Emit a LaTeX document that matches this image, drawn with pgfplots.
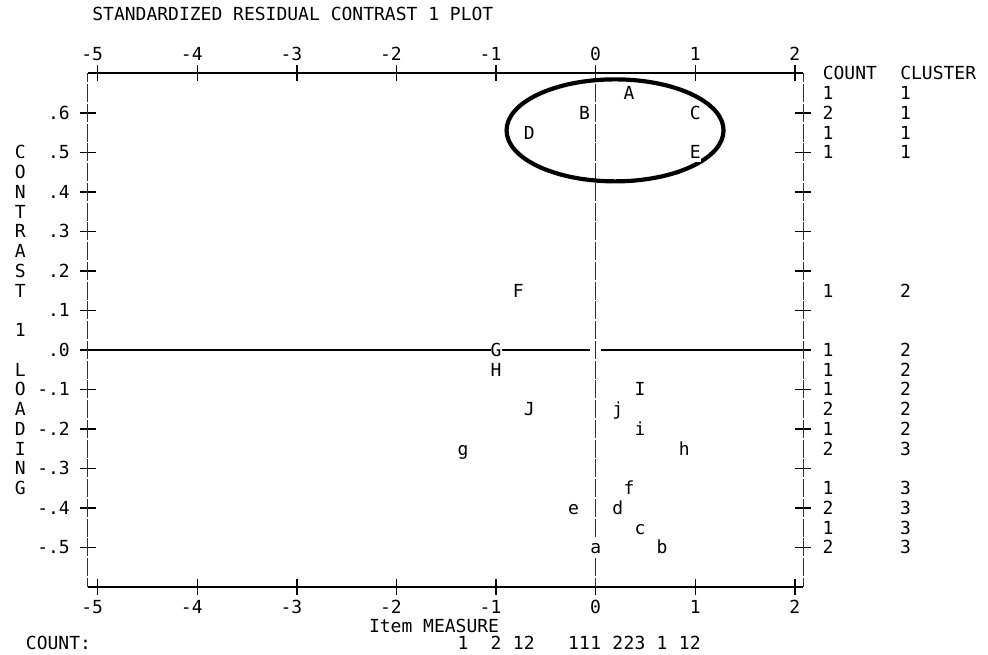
\documentclass[border=0pt]{standalone}
\usepackage{fontspec}
\setmainfont{DejaVu Sans Mono}
\setmonofont{DejaVu Sans Mono}
\usepackage{pgfplots}
\usepackage{pgfplotstable}
\pgfplotsset{compat=1.18}
\definecolor{vline}{RGB}{60,45,30}
\tikzset{cell/.style={anchor=base, yshift=-6.5pt, inner sep=0pt},
  lcell/.style={anchor=base west, yshift=-6.5pt, inner sep=0pt},
  rcell/.style={anchor=base east, yshift=-6.5pt, inner sep=0pt},
  tcell/.style={anchor=base east, yshift=-6.5pt, xshift=5.5pt, inner sep=0pt}}

\pgfplotstableread{
x y label
0.3333 0.65 A
-0.1111 0.60 B
1.0 0.60 C
-0.6667 0.55 D
1.0 0.50 E
-0.7778 0.15 F
-1.0 0.00 G
-1.0 -0.05 H
0.4444 -0.10 I
-0.6667 -0.15 J
0.2222 -0.15 j
0.4444 -0.20 i
-1.3333 -0.25 g
0.8889 -0.25 h
0.3333 -0.35 f
-0.2222 -0.40 e
0.2222 -0.40 d
0.4444 -0.45 c
0.0 -0.50 a
0.6667 -0.50 b
}\items

\pgfplotstableread{
y count cluster
0.65 1 1
0.60 2 1
0.55 1 1
0.50 1 1
0.15 1 2
0.00 1 2
-0.05 1 2
-0.10 1 2
-0.15 2 2
-0.20 1 2
-0.25 2 3
-0.35 1 3
-0.40 2 3
-0.45 1 3
-0.50 2 3
}\rows

\pgfplotstableread{
x n
-1.3333 1
-1.0 2
-0.7778 1
-0.6667 2
-0.2222 1
-0.1111 1
0.0 1
0.2222 2
0.3333 2
0.4444 3
0.6667 1
0.8889 1
1.0 2
}\colcounts

\begin{document}
\fontsize{18pt}{20pt}\selectfont
\begin{tikzpicture}
\path[use as bounding box] (0,0) rectangle (988pt,655pt);
\begin{axis}[
  at={(87.74pt,68pt)}, anchor=south west,
  scale only axis, width=715.66pt, height=513.5pt,
  xmin=-5.1, xmax=2.085, ymin=-0.6, ymax=0.7,
  axis line style={draw=none},
  xtick={-5,-4,-3,-2,-1,0,1,2},
  ytick={-0.5,-0.4,-0.3,-0.2,-0.1,0,0.1,0.2,0.3,0.4,0.5,0.6},
  xticklabels={,,}, yticklabels={,,},
  xtick pos=both, ytick pos=both,
  tick align=center, major tick length=16pt,
  tick style={black, line width=1.3pt},
  clip=false,
]
% frame
\draw[black, line width=2pt] (rel axis cs:0,1) -- (rel axis cs:1,1);
\draw[black, line width=2pt] (rel axis cs:0,0) -- (rel axis cs:1,0);
\draw[vline, line width=1.5pt, dash pattern=on 18pt off 1.75pt, dash phase=9pt] (rel axis cs:0,1) -- (rel axis cs:0,0);
\draw[vline, line width=1.5pt, dash pattern=on 18pt off 1.75pt, dash phase=9pt] (rel axis cs:1,1) -- (rel axis cs:1,0);
% zero lines
\draw[vline, line width=1.5pt, dash pattern=on 18pt off 1.75pt, dash phase=9pt] (axis cs:0,0.7) -- (axis cs:0,-0.6);
\draw[black, line width=2pt] (axis cs:-5.1,0) -- (axis cs:-0.057,0);
\draw[black, line width=2pt] (axis cs:0.055,0) -- (axis cs:2.085,0);

% item letters
\addplot[only marks, mark=none, nodes near coords, point meta=explicit symbolic,
  nodes near coords align={anchor=base},
  every node near coord/.append style={anchor=base, yshift=-6.5pt, inner sep=0pt, fill=white, text height=16.35pt, text depth=3.35pt}]
  table[x=x, y=y, meta=label] {\items};

% right columns
\addplot[only marks, mark=none, nodes near coords, point meta=explicit symbolic,
  nodes near coords align={anchor=base},
  every node near coord/.append style={anchor=base, yshift=-6.5pt, inner sep=0pt}]
  table[x expr=2.3333, y=y, meta=count] {\rows};
\addplot[only marks, mark=none, nodes near coords, point meta=explicit symbolic,
  nodes near coords align={anchor=base},
  every node near coord/.append style={anchor=base, yshift=-6.5pt, inner sep=0pt}]
  table[x expr=3.1111, y=y, meta=cluster] {\rows};

% bottom counts
\addplot[only marks, mark=none, nodes near coords, point meta=explicit symbolic,
  nodes near coords align={anchor=base},
  every node near coord/.append style={anchor=base, yshift=-6.5pt, inner sep=0pt, text depth=0pt}]
  table[x=x, y expr=-0.743, meta=n] {\colcounts};

% ellipse
\draw[black, line width=4.2pt] (axis cs:0.194,0.556) ellipse [x radius=108.5pt, y radius=51pt];

% title and headers
\node[lcell] at (axis cs:-5.0556,0.85) {STANDARDIZED RESIDUAL CONTRAST 1 PLOT};
\node[lcell] at (axis cs:2.2778,0.70) {COUNT};
\node[lcell] at (axis cs:3.0556,0.70) {CLUSTER};
\node[lcell] at (axis cs:-2.2778,-0.70) {Item MEASURE};
\node[lcell, text depth=0pt] at (axis cs:-5.7222,-0.743) {COUNT:};

% x tick labels top
\node[tcell] at (axis cs:-5,0.75) {-5};
\node[tcell] at (axis cs:-4,0.75) {-4};
\node[tcell] at (axis cs:-3,0.75) {-3};
\node[tcell] at (axis cs:-2,0.75) {-2};
\node[tcell] at (axis cs:-1,0.75) {-1};
\node[tcell] at (axis cs:0,0.75) {0};
\node[tcell] at (axis cs:1,0.75) {1};
\node[tcell] at (axis cs:2,0.75) {2};
% x tick labels bottom
\node[tcell] at (axis cs:-5,-0.65) {-5};
\node[tcell] at (axis cs:-4,-0.65) {-4};
\node[tcell] at (axis cs:-3,-0.65) {-3};
\node[tcell] at (axis cs:-2,-0.65) {-2};
\node[tcell] at (axis cs:-1,-0.65) {-1};
\node[tcell] at (axis cs:0,-0.65) {0};
\node[tcell] at (axis cs:1,-0.65) {1};
\node[tcell] at (axis cs:2,-0.65) {2};
% y tick labels
\node[rcell] at (axis cs:-5.2778,0.6) {.6};
\node[rcell] at (axis cs:-5.2778,0.5) {.5};
\node[rcell] at (axis cs:-5.2778,0.4) {.4};
\node[rcell] at (axis cs:-5.2778,0.3) {.3};
\node[rcell] at (axis cs:-5.2778,0.2) {.2};
\node[rcell] at (axis cs:-5.2778,0.1) {.1};
\node[rcell] at (axis cs:-5.2778,0.0) {.0};
\node[rcell] at (axis cs:-5.2778,-0.1) {-.1};
\node[rcell] at (axis cs:-5.2778,-0.2) {-.2};
\node[rcell] at (axis cs:-5.2778,-0.3) {-.3};
\node[rcell] at (axis cs:-5.2778,-0.4) {-.4};
\node[rcell] at (axis cs:-5.2778,-0.5) {-.5};
% vertical axis title
\node[cell] at (axis cs:-5.7778,0.50) {C};
\node[cell] at (axis cs:-5.7778,0.45) {O};
\node[cell] at (axis cs:-5.7778,0.40) {N};
\node[cell] at (axis cs:-5.7778,0.35) {T};
\node[cell] at (axis cs:-5.7778,0.30) {R};
\node[cell] at (axis cs:-5.7778,0.25) {A};
\node[cell] at (axis cs:-5.7778,0.20) {S};
\node[cell] at (axis cs:-5.7778,0.15) {T};
\node[cell] at (axis cs:-5.7778,0.05) {1};
\node[cell] at (axis cs:-5.7778,-0.05) {L};
\node[cell] at (axis cs:-5.7778,-0.10) {O};
\node[cell] at (axis cs:-5.7778,-0.15) {A};
\node[cell] at (axis cs:-5.7778,-0.20) {D};
\node[cell] at (axis cs:-5.7778,-0.25) {I};
\node[cell] at (axis cs:-5.7778,-0.30) {N};
\node[cell] at (axis cs:-5.7778,-0.35) {G};
\end{axis}
\end{tikzpicture}
\end{document}
